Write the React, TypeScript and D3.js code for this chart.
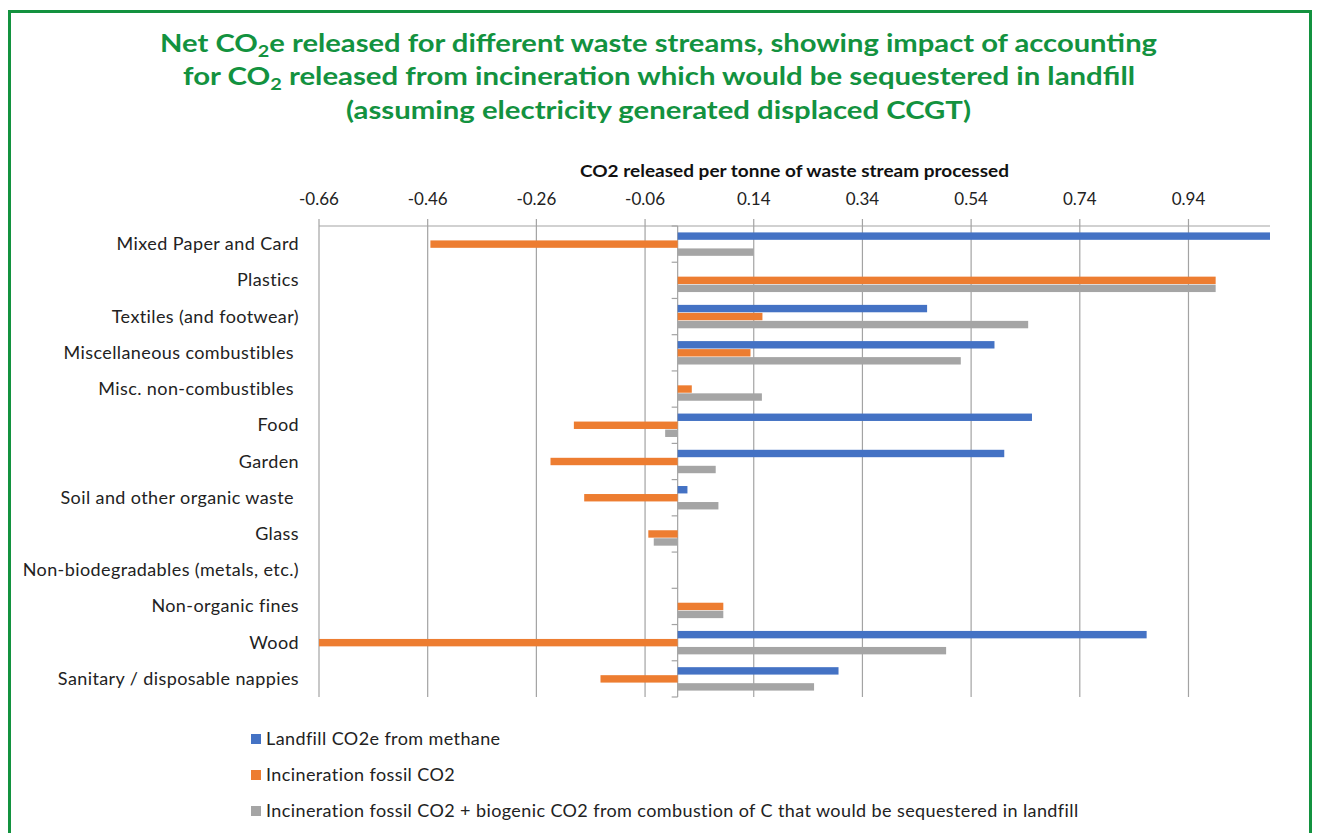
import * as d3 from "d3";

const CATEGORIES = [
  "Mixed Paper and Card",
  "Plastics",
  "Textiles (and footwear)",
  "Miscellaneous combustibles ",
  "Misc. non-combustibles ",
  "Food",
  "Garden",
  "Soil and other organic waste ",
  "Glass",
  "Non-biodegradables (metals, etc.)",
  "Non-organic fines",
  "Wood",
  "Sanitary / disposable nappies",
];

const SERIES = [
  "Landfill CO2e from methane",
  "Incineration fossil CO2",
  "Incineration fossil CO2 + biogenic CO2 from combustion of C that would be sequestered in landfill",
];

const LANDFILL = [1.09, 0, 0.459, 0.583, 0, 0.652, 0.601, 0.018, 0, 0, 0, 0.863, 0.296];
const INC_FOSSIL = [-0.455, 0.99, 0.156, 0.134, 0.026, -0.191, -0.234, -0.172, -0.054, 0, 0.084, -0.66, -0.142];
const INC_TOTAL = [0.14, 0.99, 0.645, 0.521, 0.155, -0.023, 0.07, 0.075, -0.044, 0, 0.084, 0.494, 0.251];

const TICKS = [-0.66, -0.46, -0.26, -0.06, 0.14, 0.34, 0.54, 0.74, 0.94];

const COLORS = ["#4472C4", "#ED7D31", "#A5A5A5"];
const GREEN = "#13923f";
const GRID = "#a3a3a3";
const FONT = "Lato, 'Open Sans', sans-serif";

export default function App() {
  const width = 1317;
  const height = 833;
  const plot = { left: 319, right: 1270, top: 226, bottom: 697 };

  const x = d3.scaleLinear().domain([-0.66, 1.09]).range([plot.left, plot.right]);
  const y = d3.scaleBand<string>().domain(CATEGORIES).range([plot.top, plot.bottom]).padding(0);
  const ys = d3
    .scaleBand<number>()
    .domain([0, 1, 2])
    .range([0, y.bandwidth()])
    .paddingInner(0.075)
    .paddingOuter(0.8);

  const seriesValues = [LANDFILL, INC_FOSSIL, INC_TOTAL];
  const x0 = x(0);

  return (
    <svg
      width={width}
      height={height}
      style={{ position: "absolute", left: 0, top: 0, background: "#fff" }}
      fontFamily={FONT}
    >
      <rect x={9.5} y={11.5} width={1301} height={900} fill="none" stroke={GREEN} strokeWidth={3} />

      {/* title */}
      <g fill={GREEN} fontWeight={700} fontSize={25} textAnchor="start">
        <text x={160} y={52} textLength={997} lengthAdjust="spacingAndGlyphs">
          Net CO<tspan dy={5} fontSize={17}>2</tspan>
          <tspan dy={-5}>e released for different waste streams, showing impact of accounting</tspan>
        </text>
        <text x={183} y={85} textLength={952} lengthAdjust="spacingAndGlyphs">
          for CO<tspan dy={5} fontSize={17}>2</tspan>
          <tspan dy={-5}> released from incineration which would be sequestered in landfill</tspan>
        </text>
        <text x={346} y={119} textLength={625} lengthAdjust="spacingAndGlyphs">
          (assuming electricity generated displaced CCGT)
        </text>
      </g>

      {/* axis title */}
      <text
        x={580}
        y={177}
        fontWeight={700}
        fontSize={17}
        fill="#111"
        textLength={429}
        lengthAdjust="spacingAndGlyphs"
      >
        CO2 released per tonne of waste stream processed
      </text>

      {/* gridlines + ticks */}
      {TICKS.map((t) => (
        <g key={t}>
          <line x1={x(t)} x2={x(t)} y1={219} y2={plot.bottom} stroke={GRID} strokeWidth={1.2} />
          <text x={x(t)} y={205} textAnchor="middle" fontSize={17} fill="#222">
            {t.toFixed(2)}
          </text>
        </g>
      ))}
      <line x1={plot.left} x2={plot.right} y1={plot.top} y2={plot.top} stroke={GRID} strokeWidth={1.2} />

      {/* category axis */}
      <line x1={x0} x2={x0} y1={plot.top} y2={plot.bottom} stroke={GRID} strokeWidth={1.2} />
      {d3.range(CATEGORIES.length + 1).map((i) => {
        const yy = plot.top + i * y.step();
        return <line key={i} x1={x0 - 6} x2={x0} y1={yy} y2={yy} stroke={GRID} strokeWidth={1.2} />;
      })}

      {/* bars */}
      {CATEGORIES.map((c, i) => (
        <g key={c}>
          {seriesValues.map((vals, s) => {
            const v = vals[i];
            if (!v) return null;
            return (
              <rect
                key={s}
                x={Math.min(x0, x(v))}
                y={(y(c) as number) + (ys(s) as number)}
                width={Math.abs(x(v) - x0)}
                height={ys.bandwidth()}
                fill={COLORS[s]}
              />
            );
          })}
          <text
            x={299}
            y={(y(c) as number) + y.bandwidth() / 2 + 6}
            textAnchor="end"
            fontSize={18}
            letterSpacing={0.4}
            fill="#222"
            style={{ whiteSpace: "pre" }}
          >
            {c}
          </text>
        </g>
      ))}

      {/* legend */}
      {SERIES.map((s, i) => (
        <g key={s} transform={`translate(251, ${739 + i * 36})`}>
          <rect x={0} y={-5} width={10} height={10} fill={COLORS[i]} />
          <text x={15} y={6} fontSize={18} letterSpacing={0.4} fill="#222">
            {s}
          </text>
        </g>
      ))}
    </svg>
  );
}
